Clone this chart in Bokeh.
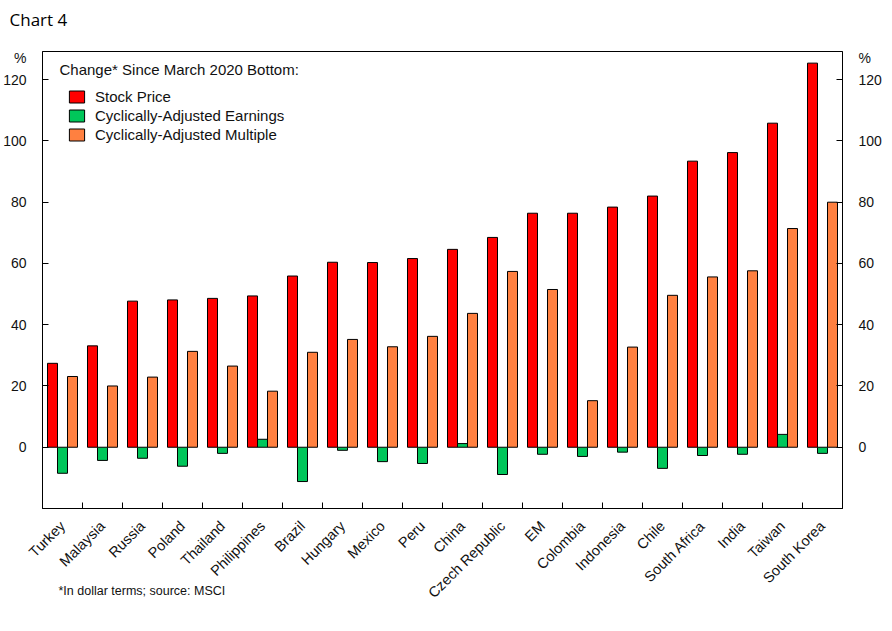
import math
import numpy as np
from bokeh.plotting import figure
from bokeh.models import Range1d, LinearAxis, FixedTicker, Label, Legend, LegendItem, Title
from bokeh.embed import file_html
from bokeh.resources import INLINE

countries = ["Turkey", "Malaysia", "Russia", "Poland", "Thailand", "Philippines",
             "Brazil", "Hungary", "Mexico", "Peru", "China", "Czech Republic", "EM",
             "Colombia", "Indonesia", "Chile", "South Africa", "India", "Taiwan",
             "South Korea"]
stock_price = [27.4, 33.1, 47.7, 48.1, 48.6, 49.4, 55.9, 60.4, 60.3, 61.6, 64.6,
               68.5, 76.4, 76.4, 78.4, 82.0, 93.4, 96.2, 105.8, 125.4]
ca_earnings = [-8.5, -4.3, -3.6, -6.2, -2.0, 2.6, -11.2, -1.0, -4.7, -5.3, 1.2,
               -8.9, -2.3, -3.0, -1.6, -6.9, -2.7, -2.3, 4.2, -2.0]
ca_multiple = [23.1, 20.0, 22.9, 31.3, 26.5, 18.3, 31.0, 35.2, 32.8, 36.2, 43.7,
               57.4, 51.5, 15.2, 32.7, 49.6, 55.6, 57.6, 71.4, 80.0]
y_ticks = [0, 20, 40, 60, 80, 100, 120]
unit_label = "%"
unit_label_pos = 127.0
series_names = ["Stock Price", "Cyclically-Adjusted Earnings", "Cyclically-Adjusted Multiple"]
colors = ["#FF0000", "#00C65A", "#FF8040"]
chart_title = "Chart 4"
legend_title = "Change* Since March 2020 Bottom:"
footnote = "*In dollar terms; source: MSCI"

FONT = "Liberation Sans"
n = len(countries)
idx = np.arange(n)
W, H = 884, 615

p = figure(width=W, height=H, output_backend="svg", toolbar_location=None,
           title=None, x_range=Range1d(0, n), y_range=Range1d(-20, 129.2))
p.min_border_left = 42
p.min_border_right = 42
p.min_border_top = 51
p.min_border_bottom = 107
p.outline_line_color = "black"
p.outline_line_alpha = 1
p.outline_line_width = 1
p.xgrid.visible = False
p.ygrid.visible = False
p.background_fill_color = "white"
p.border_fill_color = "white"

# spacer (nearest the frame) and chart title above it
p.add_layout(Title(text=" ", text_font_size="10px", standoff=8), "above")
p.add_layout(Title(text=chart_title, align="left", offset=-33, standoff=0,
                   text_font="Open Sans", text_font_size="17px",
                   text_font_style="normal", text_color="#000000"), "above")

r1 = p.vbar(x=idx + 0.25, top=stock_price, width=0.25, bottom=0,
            fill_color=colors[0], line_color="black", line_width=1)
r2 = p.vbar(x=idx + 0.5, top=ca_earnings, width=0.25, bottom=0,
            fill_color=colors[1], line_color="black", line_width=1)
r3 = p.vbar(x=idx + 0.75, top=ca_multiple, width=0.25, bottom=0,
            fill_color=colors[2], line_color="black", line_width=1)

# x axis: labels at category centres, tick marks at category boundaries
xa = p.xaxis[0]
xa.ticker = FixedTicker(ticks=[float(i) + 0.5 for i in idx],
                        minor_ticks=[float(i) for i in range(1, n)])
xa.major_label_overrides = {float(i) + 0.5: c for i, c in enumerate(countries)}
xa.major_tick_line_color = None
xa.minor_tick_in = 6
xa.minor_tick_out = 0
xa.minor_tick_line_color = "black"
xa.axis_line_color = "black"
xa.major_label_orientation = math.pi / 4
xa.major_label_text_font = FONT
xa.major_label_text_font_size = "14.5px"
xa.major_label_text_color = "#111111"
xa.major_label_standoff = 9

def style_y(ax):
    # labels (incl. the "%" unit) as major ticks, visible tick marks as minor ticks
    ax.ticker = FixedTicker(ticks=y_ticks + [unit_label_pos], minor_ticks=y_ticks)
    ax.major_label_overrides = {float(unit_label_pos): unit_label}
    ax.major_tick_line_color = None
    ax.minor_tick_in = 6
    ax.minor_tick_out = 0
    ax.minor_tick_line_color = "black"
    ax.axis_line_color = "black"
    ax.major_label_text_font = FONT
    ax.major_label_text_font_size = "14px"
    ax.major_label_text_color = "#111111"
    ax.major_label_standoff = 10

style_y(p.yaxis[0])
ra = LinearAxis()
style_y(ra)
p.add_layout(ra, "right")

legend = Legend(items=[LegendItem(label=series_names[0], renderers=[r1]),
                       LegendItem(label=series_names[1], renderers=[r2]),
                       LegendItem(label=series_names[2], renderers=[r3])],
                location=(25, 364.5))
legend.glyph_width = 19
legend.glyph_height = 15
legend.label_height = 19
legend.spacing = 0
legend.padding = 0
legend.margin = 0
legend.label_standoff = 9
legend.border_line_color = None
legend.background_fill_alpha = 0
legend.label_text_font = FONT
legend.label_text_font_size = "15px"
legend.label_text_color = "#111111"
p.add_layout(legend)

p.add_layout(Label(x=0.425, y=123.2, text=legend_title, text_font=FONT,
                   text_font_size="15px", text_baseline="middle", text_color="#111111"))

foot = Title(text=footnote, align="left", offset=16, standoff=-51, vertical_align="top",
             text_font=FONT, text_font_size="12.5px", text_font_style="normal",
             text_color="#111111")
p.add_layout(foot, "below")

open("out.html", "w").write(file_html(p, INLINE))
